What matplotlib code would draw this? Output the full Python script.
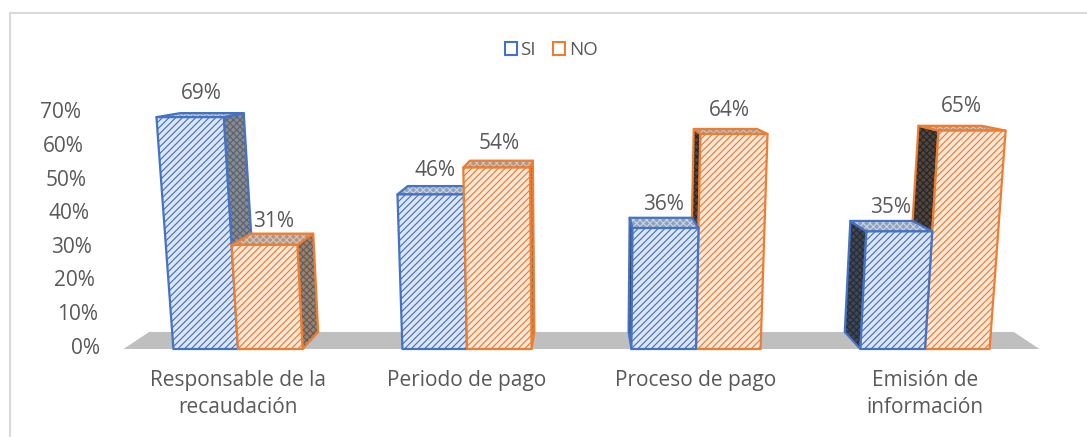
import matplotlib as mpl
import matplotlib.pyplot as plt
from matplotlib.patches import Polygon, Rectangle, Patch

# ---- data ----
categories = ["Responsable de la\nrecaudación", "Periodo de pago",
              "Proceso de pago", "Emisión de\ninformación"]
series = ["SI", "NO"]
si_values = [69, 46, 36, 35]
no_values = [31, 54, 64, 65]
y_ticks = [0, 10, 20, 30, 40, 50, 60, 70]

# ---- palette (Excel default theme) ----
BLUE = "#4472c4"
ORANGE = "#ed7d31"
TEXT = "#595959"
FLOOR = "#bfbfbf"
FRAME = "#d9d9d9"

STYLE = {
    "SI": dict(edge=BLUE, front=("#dde6f5", BLUE),
               top=("#8fa0b8", "#c6d2e6"),
               right=("#868b94", "#5d6470"), left=("#3f4654", "#262c38")),
    "NO": dict(edge=ORANGE, front=("#fde8da", ORANGE),
               top=("#ad9687", "#d7c3b5"),
               right=("#948479", "#6c5a4e"), left=("#4d4641", "#2c2622")),
}

FS = 15
mpl.rcParams.update({
    "font.family": ["Open Sans", "DejaVu Sans"],
    "font.size": FS,
    "text.color": TEXT,
    "hatch.linewidth": 0.85,
})

# ---- pseudo-3D camera (pixels on a 1087x437 canvas) ----
W, H = 1087, 437
X0, XS = 238.0, 229.0        # pixel x of category 0, pixels per category
Y0, YS = 349.0, 3.36         # pixel y of the floor front edge, pixels per %
VPX, HORIZON, VVERT = 581.0, 45.0, 5920.0
BACK = 0.944                 # shrink of the back plane toward the horizon
BAR_W = 0.282
AX_BOT = 355.0               # pixel row of the axes bottom


def proj(x, y, z):
    """world (category, percent, depth 0..1) -> axes data coords"""
    xb = X0 + XS * x
    yf = Y0 - YS * y
    xf = VPX + (xb - VPX) * (VVERT - yf) / (VVERT - Y0)
    s = 1 - (1 - BACK) * z
    px = VPX + (xf - VPX) * s
    py = HORIZON + (yf - HORIZON) * s
    return (px - X0) / XS, (Y0 - py) / YS


def face(ax, pts, fill, hatch_col, edge, hatch):
    xy = [proj(*p) for p in pts]
    ax.add_patch(Polygon(xy, closed=True, facecolor=fill, edgecolor=hatch_col,
                         hatch=hatch, lw=0, clip_on=False))
    ax.add_patch(Polygon(xy, closed=True, fill=False, edgecolor=edge,
                         lw=1.6, joinstyle="round", clip_on=False))


def box(ax, xl, xr, h, st):
    vp = (VPX - X0) / XS
    if xr < vp:
        face(ax, [(xr, 0, 0), (xr, 0, 1), (xr, h, 1), (xr, h, 0)],
             *st["right"], st["edge"], "xxxxx")
    elif xl > vp:
        face(ax, [(xl, 0, 0), (xl, 0, 1), (xl, h, 1), (xl, h, 0)],
             *st["left"], st["edge"], "xxxxx")
    face(ax, [(xl, h, 0), (xr, h, 0), (xr, h, 1), (xl, h, 1)],
         *st["top"], st["edge"], "xxxxx")
    face(ax, [(xl, 0, 0), (xr, 0, 0), (xr, h, 0), (xl, h, 0)],
         *st["front"], st["edge"], "/////")


fig = plt.figure(figsize=(W / 100, H / 100), dpi=100)
ax = fig.add_axes([0, (H - AX_BOT) / H, 1, AX_BOT / H])
ax.set_xlim(-X0 / XS, (W - X0) / XS)
ax.set_ylim((Y0 - AX_BOT) / YS, Y0 / YS)
for sp in ax.spines.values():
    sp.set_visible(False)
ax.set_yticks([])

# chart frame
fig.add_artist(Rectangle((10 / W, -0.1), 1.2, 1.1 - 13 / H, transform=fig.transFigure,
                         fill=False, edgecolor=FRAME, lw=1.5))

# floor
n = len(categories)
fx = [proj(*p) for p in [(-0.5, 0, 0), (n - 0.5, 0, 0), (n - 0.5, 0, 1), (-0.5, 0, 1)]]
ax.add_patch(Polygon(fx, closed=True, facecolor=FLOOR, edgecolor="none", clip_on=False))

# bars, farthest from the vanishing point first
bars = []
for i in range(n):
    bars.append((i - BAR_W, i, si_values[i], "SI"))
    bars.append((i, i + BAR_W, no_values[i], "NO"))
vp = (VPX - X0) / XS
bars.sort(key=lambda b: -abs((b[0] + b[1]) / 2 - vp))
for xl, xr, v, s in bars:
    box(ax, xl, xr, v, STYLE[s])

# data labels
for xl, xr, v, s in bars:
    lx, ly = proj((xl + xr) / 2, v, 0.5)
    ax.text(lx, ly + (15 + 0.1 * v) / YS, f"{v}%", ha="center", va="center",
            fontsize=FS, color=TEXT)

# value axis labels, leaning with the perspective
for t in y_ticks:
    tx, ty = proj(-0.5, t, 0)
    ax.text(tx - 23 / XS, ty + 1 / YS, f"{t}%", ha="right", va="center",
            fontsize=FS, color=TEXT)

# category labels
ax.set_xticks(range(n), categories)
ax.tick_params(axis="x", length=0, pad=11, labelsize=FS, labelcolor=TEXT)
for lbl in ax.get_xticklabels():
    lbl.set_linespacing(1.35)

handles = [Patch(facecolor="white", edgecolor=STYLE[s]["edge"], lw=1.5, label=s)
           for s in series]
fig.legend(handles=handles, loc="center", bbox_to_anchor=(551 / W, 1 - 50 / H),
           ncol=2, frameon=False, handlelength=0.65, handleheight=0.65,
           handletextpad=0.2, columnspacing=0.9, fontsize=FS - 1.5, labelcolor=TEXT)

fig.savefig("out.png", dpi=100)
